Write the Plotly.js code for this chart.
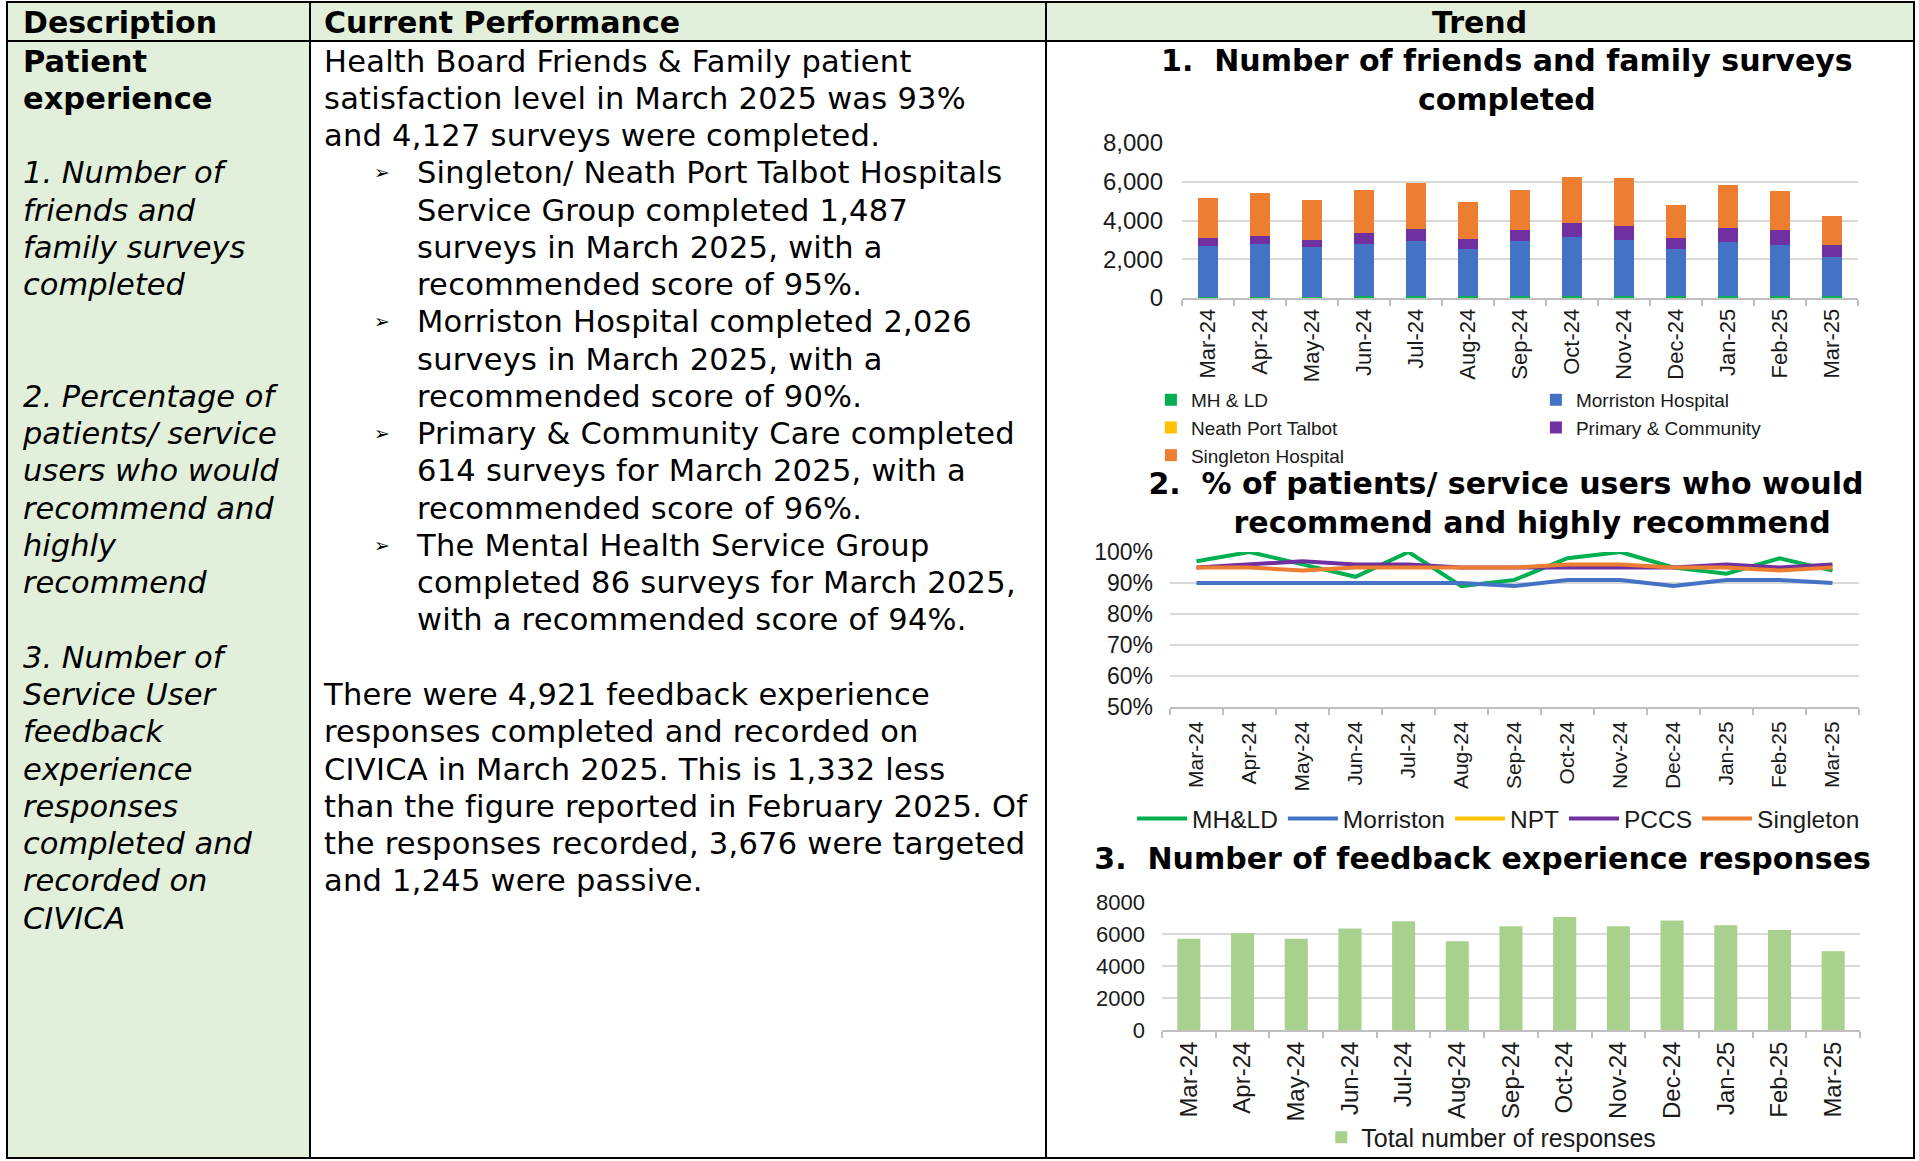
<!DOCTYPE html>
<html><head><meta charset="utf-8">
<script src="https://cdn.plot.ly/plotly-3.0.1.min.js"></script>
<style>
body{margin:0;background:#fff;width:1919px;height:1161px;overflow:hidden;position:relative;font-family:"DejaVu Sans",Verdana,sans-serif;color:#000}
.bg{position:absolute;background:#E2EFDA}
.hl{position:absolute;background:#000;height:2px}
.vl{position:absolute;background:#000;width:2px}
.txt{position:absolute;font-size:30.5px;line-height:37.27px;white-space:nowrap}
.hdr{position:absolute;font-size:30px;font-weight:bold;line-height:37px;top:4px;white-space:nowrap}
.bul{position:relative;padding-left:93px}
.bul .b{position:absolute;left:50px;top:0;font-size:19px;letter-spacing:0}
.chart{position:absolute;left:1047px;width:866px}
</style></head>
<body>
<div class="bg" style="left:6px;top:1px;width:1909px;height:41px"></div>
<div class="bg" style="left:6px;top:42px;width:304px;height:1117px"></div>

<div class="hl" style="left:6px;top:1px;width:1909px"></div>
<div class="hl" style="left:6px;top:40px;width:1909px"></div>
<div class="hl" style="left:6px;top:1157px;width:1909px"></div>
<div class="vl" style="left:6px;top:1px;height:1158px"></div>
<div class="vl" style="left:309px;top:1px;height:1158px"></div>
<div class="vl" style="left:1045px;top:1px;height:1158px"></div>
<div class="vl" style="left:1913px;top:1px;height:1158px"></div>

<div class="hdr" style="left:23px">Description</div>
<div class="hdr" style="left:324px">Current Performance</div>
<div class="hdr" style="left:1432px">Trend</div>

<div class="txt" style="left:23px;top:42.5px">
<b>Patient</b><br><b>experience</b><br><br>
<i>1. Number of</i><br><i>friends and</i><br><i>family surveys</i><br><i>completed</i><br><br><br>
<i>2. Percentage of</i><br><i>patients/ service</i><br><i>users who would</i><br><i>recommend and</i><br><i>highly</i><br><i>recommend</i><br><br>
<i>3. Number of</i><br><i>Service User</i><br><i>feedback</i><br><i>experience</i><br><i>responses</i><br><i>completed and</i><br><i>recorded on</i><br><i>CIVICA</i>
</div>

<div class="txt" style="left:324px;top:42.5px;letter-spacing:0.25px">
<div>Health Board Friends &amp; Family patient<br>satisfaction level in March 2025 was 93%<br>and 4,127 surveys were completed.</div>
<div class="bul"><span class="b">&#10146;</span>Singleton/ Neath Port Talbot Hospitals<br>Service Group completed 1,487<br>surveys in March 2025, with a<br>recommended score of 95%.</div>
<div class="bul"><span class="b">&#10146;</span>Morriston Hospital completed 2,026<br>surveys in March 2025, with a<br>recommended score of 90%.</div>
<div class="bul"><span class="b">&#10146;</span>Primary &amp; Community Care completed<br>614 surveys for March 2025, with a<br>recommended score of 96%.</div>
<div class="bul"><span class="b">&#10146;</span>The Mental Health Service Group<br>completed 86 surveys for March 2025,<br>with a recommended score of 94%.</div>
<div><br>There were 4,921 feedback experience<br>responses completed and recorded on<br>CIVICA in March 2025. This is 1,332 less<br>than the figure reported in February 2025. Of<br>the responses recorded, 3,676 were targeted<br>and 1,245 were passive.</div>
</div>

<div id="c1" class="chart" style="top:43px;height:440px"></div>
<div id="c2" class="chart" style="top:463px;height:372px"></div>
<div id="c3" class="chart" style="top:835px;height:322px"></div>

<script>
var months = ['Mar-24','Apr-24','May-24','Jun-24','Jul-24','Aug-24','Sep-24','Oct-24','Nov-24','Dec-24','Jan-25','Feb-25','Mar-25'];

// Chart 1: number of friends and family surveys completed (stacked)
var ffMHLD      = [50,50,50,80,80,80,80,80,80,80,80,80,86];
var ffMorriston = [2650,2760,2580,2730,2880,2450,2880,3090,2930,2450,2830,2660,2026];
var ffNPT       = [0,0,0,0,0,0,0,0,0,0,0,0,0];
var ffPrimary   = [400,410,380,560,620,530,570,690,690,570,720,790,614];
var ffSingleton = [2080,2220,2050,2220,2340,1900,2060,2370,2480,1700,2220,2010,1487];

// Chart 2: % who would recommend / highly recommend
var recMHLD      = [97,100,96,92,100,89,91,98,100,95,93,98,94];
var recMorriston = [90,90,90,90,90,90,89,91,91,89,91,91,90];
var recNPT       = [null,null,null,null,null,null,null,null,null,null,null,null,null];
var recPCCS      = [95,96,97,96,96,95,95,95,95,95,96,95,96];
var recSingleton = [95,95,94,95,95,95,95,96,96,95,95,94,95];

// Chart 3: total number of feedback experience responses
var responses = [5700,6050,5700,6350,6790,5550,6490,7060,6490,6850,6550,6253,4921];

var COL = {mh:'#00B050', mor:'#4472C4', npt:'#FFC000', pc:'#7030A0', sing:'#ED7D31', tot:'#A9D18E'};
var AX = 'Liberation Sans, Arial, sans-serif';
var TF = {family:'DejaVu Sans, Verdana, sans-serif', size:30, color:'#000', weight:700};
var cfg = {staticPlot:true, displayModeBar:false};
var NB = '\u00a0';

function xaxis(sz, standoff, rng){
  var a = {type:'category', tickangle:-90, ticks:'outside', tickson:'boundaries', ticklen:6,
    tickcolor:'#BFBFBF', tickwidth:2, showline:true, linecolor:'#BFBFBF', linewidth:2,
    showgrid:false, tickfont:{family:AX, size:sz, color:'#1a1a1a'}, ticklabelstandoff:standoff||0, fixedrange:true};
  if(rng) a.range = rng;
  return a;
}

// Chart 1
Plotly.newPlot('c1', [
  {type:'bar', name:'MH & LD', x:months, y:ffMHLD, marker:{color:COL.mh}},
  {type:'bar', name:'Morriston Hospital', x:months, y:ffMorriston, marker:{color:COL.mor}},
  {type:'bar', name:'Neath Port Talbot', x:months, y:ffNPT, marker:{color:COL.npt}},
  {type:'bar', name:'Primary & Community', x:months, y:ffPrimary, marker:{color:COL.pc}},
  {type:'bar', name:'Singleton Hospital', x:months, y:ffSingleton, marker:{color:COL.sing}}
], {
  width:866, height:440, barmode:'stack', bargap:0.6,
  margin:{l:135, r:55, t:100, b:185, autoexpand:false},
  paper_bgcolor:'rgba(0,0,0,0)', plot_bgcolor:'rgba(0,0,0,0)',
  title:{text:'1.'+NB+' Number of friends and family surveys<br>completed', font:TF,
    x:0.531, xref:'container', xanchor:'center', y:0.936, yref:'container', yanchor:'top'},
  xaxis:xaxis(22),
  yaxis:{range:[0,8000], tickvals:[0,2000,4000,6000,8000], tickformat:',d', showline:false, ticks:'',
    gridcolor:'#D9D9D9', gridwidth:2, zeroline:false, tickfont:{family:AX, size:24, color:'#1a1a1a'}, ticklabelstandoff:18},
  showlegend:true,
  legend:{orientation:'h', traceorder:'normal', xref:'paper', yref:'paper', x:-0.046, xanchor:'left',
    y:-0.535, yanchor:'top', entrywidth:340, font:{family:AX, size:19, color:'#1a1a1a'}, bgcolor:'rgba(0,0,0,0)'}
}, cfg);

// Chart 2
function ln(name, y, c){ return {type:'scatter', mode:'lines', name:name, x:months, y:y, line:{color:c, width:4}, cliponaxis:false}; }
Plotly.newPlot('c2', [
  ln('MH&LD', recMHLD, COL.mh),
  ln('Morriston', recMorriston, COL.mor),
  ln('NPT', recNPT, COL.npt),
  ln('PCCS', recPCCS, COL.pc),
  ln('Singleton', recSingleton, COL.sing)
], {
  width:866, height:372,
  margin:{l:123, r:54, t:89, b:128, autoexpand:false},
  paper_bgcolor:'rgba(0,0,0,0)', plot_bgcolor:'rgba(0,0,0,0)',
  title:{text:'2.'+NB+' % of patients/ service users who would<br>'+NB+NB+NB+NB+NB+'recommend and highly recommend', font:TF,
    x:0.530, xref:'container', xanchor:'center', y:0.917, yref:'container', yanchor:'top'},
  xaxis:xaxis(21, 4, [-0.5, 12.5]),
  yaxis:{range:[50,100], dtick:10, ticksuffix:'%', showline:false, ticks:'',
    gridcolor:'#D9D9D9', gridwidth:2, zeroline:false, tickfont:{family:AX, size:23, color:'#1a1a1a'}, ticklabelstandoff:16},
  showlegend:true,
  legend:{orientation:'h', traceorder:'normal', xref:'paper', yref:'paper', x:-0.055, xanchor:'left',
    y:-0.575, yanchor:'top', itemwidth:50, font:{family:AX, size:24.5, color:'#1a1a1a'}, bgcolor:'rgba(0,0,0,0)'}
}, cfg);

// Chart 3
Plotly.newPlot('c3', [
  {type:'bar', name:'Total number of responses', x:months, y:responses, marker:{color:COL.tot}}
], {
  width:866, height:322, bargap:0.57,
  margin:{l:114.5, r:53, t:67, b:126.5, autoexpand:false},
  paper_bgcolor:'rgba(0,0,0,0)', plot_bgcolor:'rgba(0,0,0,0)',
  title:{text:'3.'+NB+' Number of feedback experience responses', font:TF,
    x:0.503, xref:'container', xanchor:'center', y:0.96, yref:'container', yanchor:'top'},
  xaxis:xaxis(24),
  yaxis:{range:[0,8000], tickvals:[0,2000,4000,6000,8000], tickformat:'d', showline:false, ticks:'',
    gridcolor:'#D9D9D9', gridwidth:2, zeroline:false, tickfont:{family:AX, size:22, color:'#1a1a1a'}, ticklabelstandoff:16},
  showlegend:true,
  legend:{orientation:'h', xref:'container', yref:'container', x:0.513, xanchor:'center',
    y:0.132, yanchor:'top', font:{family:AX, size:25, color:'#1a1a1a'}, bgcolor:'rgba(0,0,0,0)'}
}, cfg);
</script>
</body></html>
